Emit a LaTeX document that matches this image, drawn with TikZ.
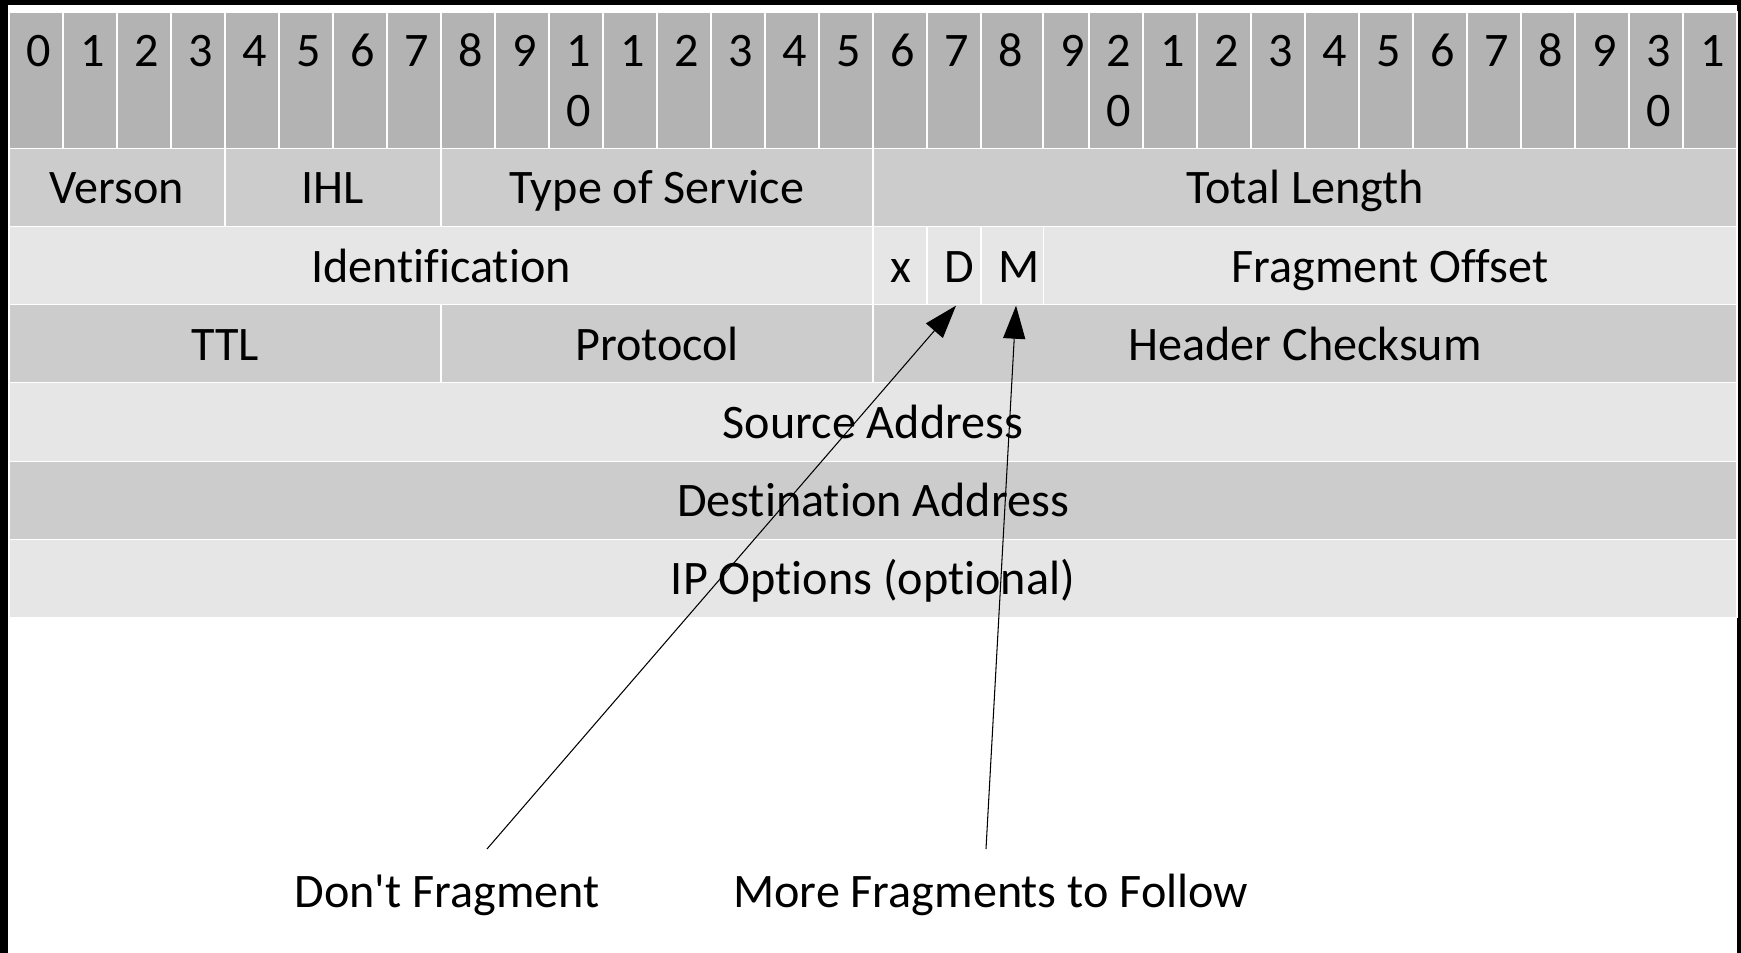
\documentclass[tikz,border=0pt]{standalone}
\usepackage{fontspec}
\setmainfont[Ligatures=NoCommon]{Carlito}
\usepackage{tikz}
\usetikzlibrary{arrows.meta,calc}
\definecolor{hdrbits}{HTML}{B3B3B3}
\definecolor{hdrdark}{HTML}{CCCCCC}
\definecolor{hdrlight}{HTML}{E6E6E6}
\newcommand{\hdrfont}{\fontsize{13.7pt}{17.1pt}\selectfont}
\newcommand{\bitpair}[2]{\vtop{\halign{\hfil##\hfil\cr#1\cr#2\cr}}}
\tikzset{
  fld/.style={draw=white,line width=0.3pt,inner sep=0pt,outer sep=0pt,anchor=north west,
    minimum height=7.82mm,minimum width=#1*5.4mm,text height=9.4pt,text depth=0pt,font=\hdrfont},
  fldA/.style={fld=#1,fill=hdrdark},
  fldB/.style={fld=#1,fill=hdrlight},
  flg/.style={fldB=#1,align=left,inner xsep=4.9pt},
  bitcell/.style={fld=1,fill=hdrbits,minimum height=13.63mm,text height=8.5pt,text depth=16.2pt},
  note/.style={font=\hdrfont,anchor=base,inner sep=0pt},
  ptr/.style={-{Triangle[length=9.4pt,width=6.3pt]},line width=0.3pt,black},
}

\begin{document}
\begin{tikzpicture}[x=0.1mm,y=-0.1mm]
  \useasboundingbox (0,0) rectangle (1741,953);
  \fill[black] (0,0) rectangle (1741,953);
  \fill[white] (8,5) rectangle (1737,953);
  % bit numbers
  \foreach \i in {0,...,31}{
    \pgfmathsetmacro\bx{9+54*\i+8*(\i==19)}
    \pgfmathsetlengthmacro\bw{(1+0.15*(\i==18)-0.15*(\i==19))*5.4mm}
    \pgfmathtruncatemacro\bd{mod(\i,10)}
    \pgfmathtruncatemacro\bt{\i/10}
    \ifnum\bd=0 \ifnum\i>0 \edef\blbl{\noexpand\bitpair{\bt}{0}}\else\def\blbl{0}\fi\else\edef\blbl{\bd}\fi
    \node[bitcell,minimum width=\bw] (b\i) at (\bx,12) {\makebox[\bw][l]{\hspace*{4.9pt}\blbl}};
  }
  % header fields
  \node[fldA=4] (ver) at (b0.south west) {Verson};
  \node[fldA=4] (ihl) at (ver.north east) {IHL};
  \node[fldA=8] (tos) at (ihl.north east) {Type of Service};
  \node[fldA=16] (tlen) at (tos.north east) {Total Length};
  \node[fldB=16] (ident) at (ver.south west) {Identification};
  \node[flg=1,text width=5.56pt] (xflag) at (ident.north east) {x};
  \node[flg=1,text width=5.56pt] (dflag) at (xflag.north east) {D};
  \node[flg=1.15,text width=7.87pt] (mflag) at (dflag.north east) {M};
  \node[fldB=12.85] (foff) at (mflag.north east) {Fragment Offset};
  \node[fldA=8] (ttl) at (ident.south west) {TTL};
  \node[fldA=8] (proto) at (ttl.north east) {Protocol};
  \node[fldA=16] (hcsum) at (proto.north east) {Header Checksum};
  \node[fldB=32] (src) at (ttl.south west) {Source Address};
  \node[fldA=32] (dst) at (src.south west) {Destination Address};
  \node[fldB=32] (opts) at (dst.south west) {IP Options (optional)};
  % flag notes
  \node[note] (dfrag) at (447,907.3) {Don\textquotesingle t Fragment};
  \node[note] (mfrag) at (990.7,907.3) {More Fragments to Follow};
  \coordinate (dtail) at (487,849);
  \coordinate (mtail) at (986,849);
  \draw[ptr] (dtail) -- ($(dflag.south)+(2,1)$);
  \draw[ptr] (mtail) -- ($(mflag.south)+(4,1)$);
\end{tikzpicture}
\end{document}
